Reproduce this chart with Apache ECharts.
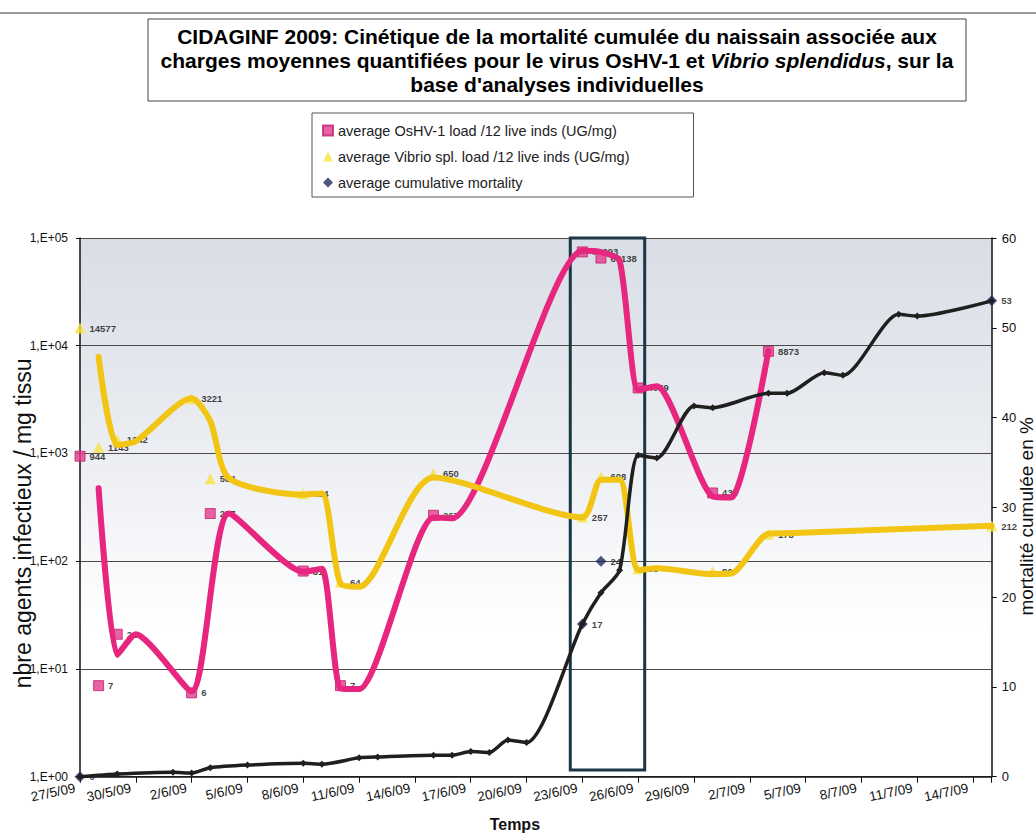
<!DOCTYPE html>
<html>
<head>
<meta charset="utf-8">
<script src="https://cdn.jsdelivr.net/npm/echarts@6/dist/echarts.min.js"></script>
<style>
  html, body { margin: 0; padding: 0; background: #ffffff; }
  #chart { width: 1036px; height: 834px; }
</style>
</head>
<body>
<div id="chart"></div>
<script>
// Sampling dates (day/month, 2009) and measured values
const oshvDates = ['27/5', '28/5', '29/5', '2/6', '3/6', '8/6', '10/6', '15/6', '23/6', '24/6', '26/6', '30/6', '3/7'];
const oshvLoad = [944, 7, 21, 6, 277, 81, 7, 267, 74293, 65138, 4059, 430, 8873];

const vibrioDates = ['27/5', '28/5', '29/5', '2/6', '3/6', '8/6', '10/6', '15/6', '23/6', '24/6', '26/6', '30/6', '3/7', '15/7'];
const vibrioLoad = [14577, 1143, 1342, 3221, 584, 424, 64, 650, 257, 608, 85, 80, 178, 212];

const mortalityDates = ['27/5', '23/6', '24/6', '15/7'];
const mortality = [0, 17, 24, 53];

// Smoothed trend traces
const oshvTraceDates = ['28/5', '29/5', '30/5', '2/6', '4/6', '8/6', '9/6', '10/6', '11/6', '15/6', '16/6', '23/6', '24/6', '25/6', '26/6', '27/6', '30/6', '1/7', '3/7'];
const oshvTrace = [476, 13.5, 21, 6.2, 277, 80, 85, 6.6, 6.5, 255, 250, 76000, 74000, 62000, 3900, 4200, 400, 390, 9000];

const vibrioTraceDates = ['28/5', '29/5', '30/5', '2/6', '3/6', '4/6', '8/6', '9/6', '10/6', '11/6', '15/6', '23/6', '24/6', '25/6', '26/6', '27/6', '30/6', '1/7', '3/7', '4/7', '15/7'];
const vibrioTrace = [7900, 1200, 1300, 3250, 2000, 590, 415, 425, 62, 58, 600, 255, 570, 570, 83, 86, 76, 77, 180, 182, 213];

const mortalityTraceDates = ['27/5', '29/5', '1/6', '2/6', '3/6', '5/6', '8/6', '9/6', '11/6', '12/6', '15/6', '16/6', '17/6', '18/6', '19/6', '20/6', '23/6', '24/6', '25/6', '26/6', '27/6', '29/6', '30/6', '3/7', '4/7', '6/7', '7/7', '10/7', '11/7', '15/7'];
const mortalityTrace = [0, 0.3, 0.5, 0.4, 1.0, 1.3, 1.5, 1.4, 2.1, 2.2, 2.4, 2.4, 2.8, 2.7, 4.1, 3.8, 17, 20.5, 23, 35.8, 35.5, 41.3, 41.1, 42.7, 42.7, 45, 44.7, 51.5, 51.3, 53];

// Axis labels
const dateTickLabels = ['27/5/09', '30/5/09', '2/6/09', '5/6/09', '8/6/09', '11/6/09', '14/6/09', '17/6/09', '20/6/09', '23/6/09', '26/6/09', '29/6/09', '2/7/09', '5/7/09', '8/7/09', '11/7/09', '14/7/09'];
const loadTickLabels = ['1,E+00', '1,E+01', '1,E+02', '1,E+03', '1,E+04', '1,E+05'];
const axisStart = '27/5';
const axisEnd = '15/7';
// Highlighted period (days since 27/5)
const highlightWindow = [26.35, 30.35];

const DAY = 86400000;
function dayOf(s) {
  const p = s.split('/').map(Number);
  const a = axisStart.split('/').map(Number);
  return Math.round((Date.UTC(2009, p[1] - 1, p[0]) - Date.UTC(2009, a[1] - 1, a[0])) / DAY);
}
function pairs(dates, vals) { return dates.map((s, i) => [dayOf(s), vals[i]]); }

const nameOshv = 'average OsHV-1 load /12 live inds (UG/mg)';
const nameVibrio = 'average Vibrio spl. load /12 live inds (UG/mg)';
const nameMort = 'average cumulative mortality';

const FONT = "'Liberation Sans', Arial, sans-serif";
const PINK = '#e6267f';
const YELLOW = '#f2c414';
const DARK = '#1f1f1f';

const valueLabel = {
  show: true, position: 'right', distance: 4,
  fontFamily: FONT, fontSize: 9.5, fontWeight: 'bold', color: '#111',
  formatter: p => String(p.value[1])
};

const chart = echarts.init(document.getElementById('chart'), null, { renderer: 'svg' });

chart.setOption({
  backgroundColor: '#ffffff',
  animation: false,
  textStyle: { fontFamily: FONT },
  graphic: [
    { type: 'line', shape: { x1: 0, y1: 13, x2: 1036, y2: 13 }, style: { stroke: '#7a7a7a', lineWidth: 1.5 } },
    { type: 'rect', shape: { x: 148, y: 19, width: 818, height: 82 }, style: { fill: '#ffffff', stroke: '#444', lineWidth: 1 } },
    {
      type: 'text', x: 557, y: 24,
      style: {
        text: '{b|CIDAGINF 2009: Cinétique de la mortalité cumulée du naissain associée aux}\n' +
              '{b|charges moyennes quantifiées pour le virus OsHV-1 et }{i|Vibrio splendidus}{b|, sur la}\n' +
              '{b|base d\'analyses individuelles}',
        align: 'center', verticalAlign: 'top',
        rich: {
          b: { fontFamily: FONT, fontSize: 21, fontWeight: 'bold', color: '#1a1a1a', lineHeight: 24 },
          i: { fontFamily: FONT, fontSize: 21, fontWeight: 'bold', fontStyle: 'italic', color: '#1a1a1a', lineHeight: 24 }
        }
      }
    }
  ],
  legend: {
    orient: 'vertical', left: 312, top: 113,
    padding: [10, 64, 7, 10],
    itemGap: 11, itemWidth: 10, itemHeight: 10,
    borderColor: '#555', borderWidth: 1, backgroundColor: '#ffffff',
    textStyle: { fontFamily: FONT, fontSize: 14.5, color: '#222' },
    data: [
      { name: nameOshv, icon: 'rect' },
      { name: nameVibrio, icon: 'triangle' },
      { name: nameMort, icon: 'diamond' }
    ]
  },
  grid: {
    left: 80, right: 44.3, top: 238, bottom: 57.3,
    containLabel: false, outerBoundsMode: 'none',
    show: true, borderWidth: 0,
    backgroundColor: new echarts.graphic.LinearGradient(0, 0, 0, 1, [
      { offset: 0, color: '#d9dde5' },
      { offset: 0.45, color: '#eef0f4' },
      { offset: 0.72, color: '#ffffff' },
      { offset: 1, color: '#ffffff' }
    ])
  },
  xAxis: {
    type: 'value', min: 0, max: dayOf(axisEnd), interval: 3,
    name: 'Temps', nameLocation: 'middle', nameGap: 40,
    nameTextStyle: { fontFamily: FONT, fontSize: 16, fontWeight: 'bold', color: '#111', padding: [0, 42, 0, 0] },
    axisLine: { lineStyle: { color: '#111', width: 1.5 } },
    axisTick: { show: true, inside: false, length: 6, lineStyle: { color: '#111' } },
    splitLine: { show: false },
    axisLabel: {
      rotate: 12, margin: 10, fontFamily: FONT, fontSize: 13.5, color: '#111', padding: [0, 5, 0, 0],
      formatter: v => (v % 3 === 0 && dateTickLabels[v / 3]) ? dateTickLabels[v / 3] : ''
    }
  },
  yAxis: [
    {
      type: 'log', logBase: 10, min: 1, max: 100000,
      name: 'nbre agents infectieux / mg tissu', nameLocation: 'middle', nameGap: 46, nameRotate: 90,
      nameMoveOverlap: false,
      nameTextStyle: { fontFamily: FONT, fontSize: 23, color: '#111', padding: [0, 32, 0, 0] },
      axisLine: { show: true, lineStyle: { color: '#111', width: 1.5 } },
      axisTick: { show: true, length: 4, lineStyle: { color: '#111' } },
      minorTick: { show: false },
      splitLine: { show: true, lineStyle: { color: '#4a4a4a', width: 1 } },
      axisLabel: {
        fontFamily: FONT, fontSize: 12, color: '#111', margin: 12,
        formatter: v => loadTickLabels[Math.round(Math.log10(v))]
      }
    },
    {
      type: 'value', min: 0, max: 60, interval: 10, position: 'right',
      name: 'mortalité cumulée en %', nameLocation: 'middle', nameGap: 25, nameRotate: 90,
      nameMoveOverlap: false,
      nameTextStyle: { fontFamily: FONT, fontSize: 19, color: '#111', padding: [0, 18, 0, 0] },
      axisLine: { show: true, lineStyle: { color: '#111', width: 1.5 } },
      axisTick: { show: true, length: 5, lineStyle: { color: '#111' } },
      splitLine: { show: false },
      axisLabel: { fontFamily: FONT, fontSize: 13, color: '#111', margin: 10 }
    }
  ],
  series: [
    {
      name: nameOshv, type: 'scatter', yAxisIndex: 0, z: 2,
      symbol: 'rect', symbolSize: 10,
      itemStyle: { color: '#e23c8c', borderColor: '#c21f6e', borderWidth: 1 },
      label: valueLabel,
      data: pairs(oshvDates, oshvLoad)
    },
    {
      name: nameVibrio, type: 'scatter', yAxisIndex: 0, z: 2,
      symbol: 'triangle', symbolSize: 11,
      itemStyle: { color: '#f6e33e' },
      label: valueLabel,
      data: pairs(vibrioDates, vibrioLoad)
    },
    {
      name: nameMort, type: 'scatter', yAxisIndex: 1, z: 2,
      symbol: 'diamond', symbolSize: 11,
      itemStyle: { color: '#1f2b5e' },
      label: valueLabel,
      data: pairs(mortalityDates, mortality)
    },
    {
      name: 'OsHV-1', type: 'line', yAxisIndex: 0, z: 3,
      smooth: 0.22, showSymbol: false, symbol: 'none',
      lineStyle: { color: PINK, width: 6, cap: 'round', join: 'round' },
      itemStyle: { color: PINK },
      data: pairs(oshvTraceDates, oshvTrace)
    },
    {
      name: 'Vibrio splendidus', type: 'line', yAxisIndex: 0, z: 3,
      smooth: 0.25, showSymbol: false, symbol: 'none',
      lineStyle: { color: YELLOW, width: 6, cap: 'round', join: 'round' },
      itemStyle: { color: YELLOW },
      data: pairs(vibrioTraceDates, vibrioTrace)
    },
    {
      name: 'mortalité cumulée', type: 'line', yAxisIndex: 1, z: 4,
      smooth: 0.25, symbol: 'diamond', symbolSize: 7, showSymbol: true,
      lineStyle: { color: DARK, width: 3.5, join: 'round' },
      itemStyle: { color: DARK },
      data: pairs(mortalityTraceDates, mortalityTrace),
      markArea: {
        silent: true,
        itemStyle: { color: 'rgba(0,0,0,0)', borderColor: '#1b3644', borderWidth: 3 },
        data: [[{ coord: [highlightWindow[0], 60] }, { coord: [highlightWindow[1], 0.75] }]]
      }
    }
  ]
});
</script>
</body>
</html>
